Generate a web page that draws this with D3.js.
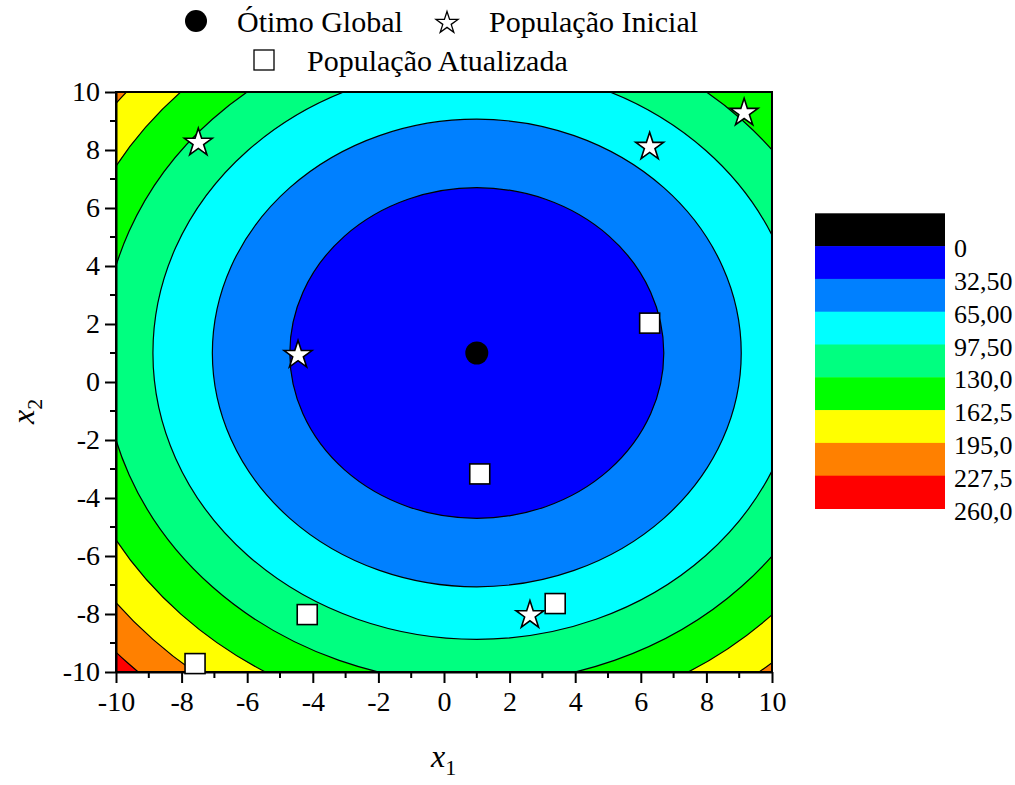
<!DOCTYPE html>
<html>
<head>
<meta charset="utf-8">
<script src="https://cdn.jsdelivr.net/npm/d3@7"></script>
<style>
  body { margin: 0; background: #fff; }
</style>
</head>
<body>
<div id="chart"></div>
<script>
const FONT = 'Liberation Serif';

// contour levels (legend boundaries) and their fill colours
const levels = [0, 32.5, 65, 97.5, 130, 162.5, 195, 227.5, 260];
const levelLabels = ['0', '32,50', '65,00', '97,50', '130,0', '162,5', '195,0', '227,5', '260,0'];
const bandColors = ['#000000', '#0000ff', '#0080ff', '#00ffff', '#00ff80', '#00ff00', '#ffff00', '#ff8000', '#ff0000'];

// optimum of f(x1,x2) = (x1-1)^2 + (x2-1)^2
const optimum = [1, 1];

// population points
const initialPop = [[-7.49, 8.30], [6.27, 8.16], [9.15, 9.33], [-4.45, 0.98], [2.62, -7.99]];
const updatedPop = [[6.27, 2.03], [1.09, -3.17], [3.39, -7.64], [-4.17, -8.02], [-7.59, -9.71]];

const xTicks = d3.range(-10, 11, 2);
const yTicks = d3.range(-10, 11, 2);
const minorTicks = d3.range(-9, 10, 2);

const margin = {top: 92, left: 116};
const width = 656, height = 580;

const svg = d3.select('#chart').append('svg')
    .attr('width', 1015)
    .attr('height', 785);

const x = d3.scaleLinear().domain([-10, 10]).range([0, width]);
const y = d3.scaleLinear().domain([-10, 10]).range([height, 0]);

const chart = svg.append('g')
    .attr('transform', `translate(${margin.left},${margin.top})`);

chart.append('clipPath').attr('id', 'plot-clip')
  .append('rect').attr('width', width).attr('height', height);

const plot = chart.append('g').attr('clip-path', 'url(#plot-clip)');

// outermost band as background, then ellipses from outer to inner
plot.append('rect')
    .attr('width', width).attr('height', height)
    .attr('fill', bandColors[8]);

const rings = levels.slice(1, 8).map((lv, i) => ({level: lv, color: bandColors[i + 1]})).reverse();

plot.selectAll('.ring')
    .data(rings)
  .join('ellipse')
    .attr('class', 'ring')
    .attr('cx', x(optimum[0]))
    .attr('cy', y(optimum[1]))
    .attr('rx', d => x(optimum[0] + Math.sqrt(d.level)) - x(optimum[0]))
    .attr('ry', d => y(optimum[1]) - y(optimum[1] + Math.sqrt(d.level)))
    .attr('fill', d => d.color)
    .attr('stroke', '#000')
    .attr('stroke-width', 1.2);

// frame
chart.append('rect')
    .attr('width', width).attr('height', height)
    .attr('fill', 'none')
    .attr('stroke', '#000')
    .attr('stroke-width', 2);

// axes
const fmt = d => String(d);
const xAxis = d3.axisBottom(x).tickValues(xTicks).tickFormat(fmt).tickSize(11).tickSizeOuter(0).tickPadding(8);
const yAxis = d3.axisLeft(y).tickValues(yTicks).tickFormat(fmt).tickSize(11).tickSizeOuter(0).tickPadding(5);

const xAxisG = chart.append('g')
    .attr('transform', `translate(0,${height})`)
    .call(xAxis);
const yAxisG = chart.append('g').call(yAxis);

[xAxisG, yAxisG].forEach(g => {
  g.attr('font-family', null).attr('font-size', null);
  g.select('.domain').attr('stroke-width', 2);
  g.selectAll('.tick line').attr('stroke-width', 2);
  g.selectAll('.tick text').style('font-family', FONT).style('font-size', '28px');
});

chart.append('g').selectAll('line')
    .data(minorTicks)
  .join('line')
    .attr('x1', d => x(d)).attr('x2', d => x(d))
    .attr('y1', height).attr('y2', height + 6)
    .attr('stroke', '#000').attr('stroke-width', 2);

chart.append('g').selectAll('line')
    .data(minorTicks)
  .join('line')
    .attr('y1', d => y(d)).attr('y2', d => y(d))
    .attr('x1', 0).attr('x2', -6)
    .attr('stroke', '#000').attr('stroke-width', 2);

// axis titles
const xTitle = svg.append('text')
    .attr('x', 431).attr('y', 767)
    .style('font-family', FONT)
    .style('font-size', '32px');
xTitle.append('tspan').style('font-style', 'italic').text('x');
xTitle.append('tspan').attr('dy', 8).style('font-size', '22px').text('1');

const yTitle = svg.append('text')
    .attr('transform', 'translate(34,424) rotate(-90)')
    .style('font-family', FONT)
    .style('font-size', '32px');
yTitle.append('tspan').style('font-style', 'italic').text('x');
yTitle.append('tspan').attr('dy', 8).style('font-size', '22px').text('2');

// markers
const star = d3.symbol().type(d3.symbolStar);

chart.append('circle')
    .attr('cx', x(optimum[0])).attr('cy', y(optimum[1]))
    .attr('r', 11.5)
    .attr('fill', '#000');

chart.selectAll('.init')
    .data(initialPop)
  .join('path')
    .attr('class', 'init')
    .attr('transform', d => `translate(${x(d[0])},${y(d[1]) + 1.5})`)
    .attr('d', star.size(240)())
    .attr('fill', '#fff')
    .attr('stroke', '#000')
    .attr('stroke-width', 1.6);

chart.selectAll('.upd')
    .data(updatedPop)
  .join('rect')
    .attr('class', 'upd')
    .attr('x', d => x(d[0]) - 10).attr('y', d => y(d[1]) - 10)
    .attr('width', 20).attr('height', 20)
    .attr('fill', '#fff')
    .attr('stroke', '#000')
    .attr('stroke-width', 1.6);

// top legend
const legend = svg.append('g');
const legendText = (tx, ty, label) => legend.append('text')
    .attr('x', tx).attr('y', ty)
    .style('font-family', FONT)
    .style('font-size', '30px')
    .text(label);
legend.append('circle').attr('cx', 196).attr('cy', 21).attr('r', 11).attr('fill', '#000');
legendText(237, 32, 'Ótimo Global');
legend.append('path')
    .attr('transform', 'translate(447,23)')
    .attr('d', star.size(150)())
    .attr('fill', 'none').attr('stroke', '#000').attr('stroke-width', 1.3);
legendText(489, 32, 'População Inicial');
legend.append('rect').attr('x', 254).attr('y', 50).attr('width', 20).attr('height', 20)
    .attr('fill', 'none').attr('stroke', '#000').attr('stroke-width', 1.3);
legendText(307, 71, 'População Atualizada');

// colour bar
const barTop = 213.3, boxH = 32.8, barX = 815, barW = 130;
const bar = svg.append('g');
bar.selectAll('rect')
    .data(bandColors)
  .join('rect')
    .attr('x', barX)
    .attr('y', (d, i) => barTop + i * boxH)
    .attr('width', barW)
    .attr('height', boxH + 0.5)
    .attr('fill', d => d);

bar.selectAll('text')
    .data(levelLabels)
  .join('text')
    .attr('x', 954)
    .attr('y', (d, i) => barTop + (i + 1) * boxH + 11)
    .style('font-family', FONT)
    .style('font-size', '26px')
    .text(d => d);
</script>
</body>
</html>
